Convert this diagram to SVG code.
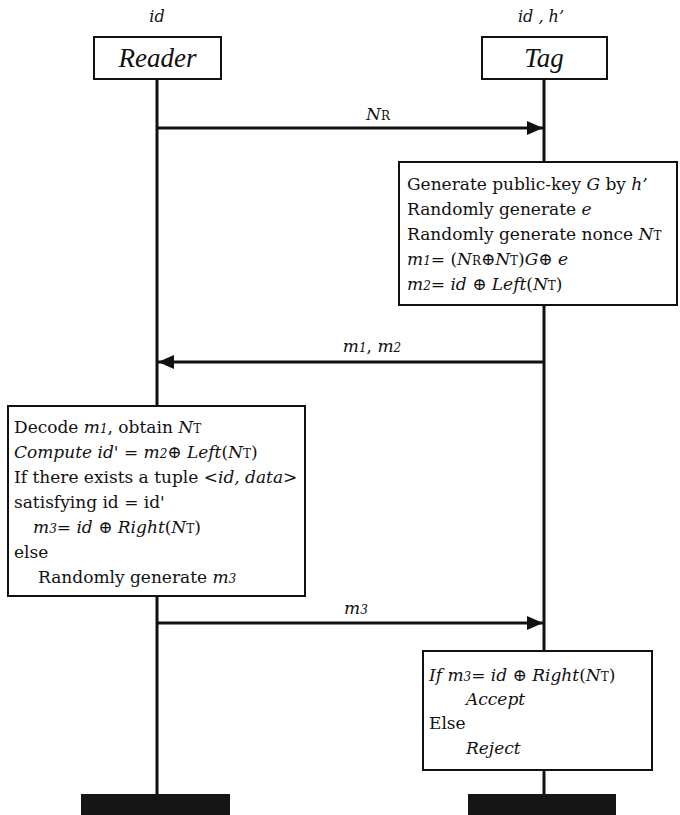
<svg xmlns="http://www.w3.org/2000/svg" width="680" height="815" viewBox="0 0 680 815">
  <style>
    text { font-family: "DejaVu Serif", "Liberation Serif", serif; font-size: 17px; fill: #111; }
    .i { font-style: italic; }
    .sub { font-size: 12px; }
    .head { font-family: "Liberation Serif", serif; font-size: 27px; font-style: italic; }
    .lbl { font-size: 16px; font-style: italic; }
    .box { fill: #fff; stroke: #111; stroke-width: 2; }
    .life { stroke: #111; stroke-width: 3; fill: none; }
    .msg { stroke: #111; stroke-width: 3; fill: none; }
    .bar { fill: #151515; }
  </style>
  <defs>
    <marker id="arrow" viewBox="0 0 16 14" refX="16" refY="7" markerWidth="16" markerHeight="14" markerUnits="userSpaceOnUse" orient="auto">
      <path d="M0,0 L16,7 L0,14 Z" fill="#111"/>
    </marker>
  </defs>

  <!-- lifelines and end bars -->
  <g id="lifelines">
    <line class="life" x1="157" y1="79" x2="157" y2="795"/>
    <line class="life" x1="544" y1="79" x2="544" y2="795"/>
    <rect class="bar" x="81" y="794" width="149" height="21"/>
    <rect class="bar" x="468" y="794" width="148" height="21"/>
  </g>

  <!-- participants -->
  <g id="reader">
    <text class="lbl" x="157" y="22" text-anchor="middle">id</text>
    <rect class="box" x="94" y="37" width="127" height="42"/>
    <text class="head" x="157.5" y="67" text-anchor="middle">Reader</text>
  </g>
  <g id="tag">
    <text class="lbl" x="541" y="22" text-anchor="middle">id , h’</text>
    <rect class="box" x="482" y="37" width="125" height="42"/>
    <text class="head" x="544" y="67" text-anchor="middle">Tag</text>
  </g>

  <!-- messages -->
  <g id="connectors">
    <line class="msg" x1="158" y1="128" x2="543" y2="128" marker-end="url(#arrow)"/>
    <text x="378" y="120" text-anchor="middle"><tspan class="i">N</tspan><tspan class="sub">R</tspan></text>

    <line class="msg" x1="543" y1="362" x2="158" y2="362" marker-end="url(#arrow)"/>
    <text x="372" y="352" text-anchor="middle"><tspan class="i">m</tspan><tspan class="sub i">1</tspan>, <tspan class="i">m</tspan><tspan class="sub i">2</tspan></text>

    <line class="msg" x1="158" y1="623" x2="543" y2="623" marker-end="url(#arrow)"/>
    <text x="356" y="614" text-anchor="middle"><tspan class="i">m</tspan><tspan class="sub i">3</tspan></text>
  </g>

  <!-- tag computation -->
  <g id="tag-compute">
    <rect class="box" x="399" y="162" width="278" height="143"/>
    <text x="407" y="190">Generate public-key <tspan class="i">G</tspan> by <tspan class="i">h’</tspan></text>
    <text x="407" y="215">Randomly generate <tspan class="i">e</tspan></text>
    <text x="407" y="240">Randomly generate nonce <tspan class="i">N</tspan><tspan class="sub">T</tspan></text>
    <text x="407" y="265"><tspan class="i">m</tspan><tspan class="sub i">1</tspan>= (<tspan class="i">N</tspan><tspan class="sub">R</tspan>⊕<tspan class="i">N</tspan><tspan class="sub">T</tspan>)<tspan class="i">G</tspan>⊕ <tspan class="i">e</tspan></text>
    <text x="407" y="290"><tspan class="i">m</tspan><tspan class="sub i">2</tspan>= <tspan class="i">id</tspan> ⊕ <tspan class="i">Left</tspan>(<tspan class="i">N</tspan><tspan class="sub">T</tspan>)</text>
  </g>

  <!-- reader verification -->
  <g id="reader-verify">
    <rect class="box" x="8" y="406" width="297" height="190"/>
    <text x="14" y="433">Decode <tspan class="i">m</tspan><tspan class="sub i">1</tspan>, obtain <tspan class="i">N</tspan><tspan class="sub">T</tspan></text>
    <text x="14" y="458"><tspan class="i">Compute id' = m</tspan><tspan class="sub i">2</tspan>⊕ <tspan class="i">Left</tspan>(<tspan class="i">N</tspan><tspan class="sub">T</tspan>)</text>
    <text x="14" y="483">If there exists a tuple &lt;<tspan class="i">id, data</tspan>&gt;</text>
    <text x="14" y="508">satisfying id = id'</text>
    <text x="33" y="533"><tspan class="i">m</tspan><tspan class="sub i">3</tspan>= <tspan class="i">id</tspan> ⊕ <tspan class="i">Right</tspan>(<tspan class="i">N</tspan><tspan class="sub">T</tspan>)</text>
    <text x="14" y="558">else</text>
    <text x="38" y="583">Randomly generate <tspan class="i">m</tspan><tspan class="sub i">3</tspan></text>
  </g>

  <!-- tag decision -->
  <g id="tag-decide">
    <rect class="box" x="423" y="651" width="229" height="119"/>
    <text x="429" y="681"><tspan class="i">If m</tspan><tspan class="sub i">3</tspan>= <tspan class="i">id</tspan> ⊕ <tspan class="i">Right</tspan>(<tspan class="i">N</tspan><tspan class="sub">T</tspan>)</text>
    <text class="i" x="466" y="705">Accept</text>
    <text x="429" y="729">Else</text>
    <text class="i" x="466" y="754">Reject</text>
  </g>
</svg>
